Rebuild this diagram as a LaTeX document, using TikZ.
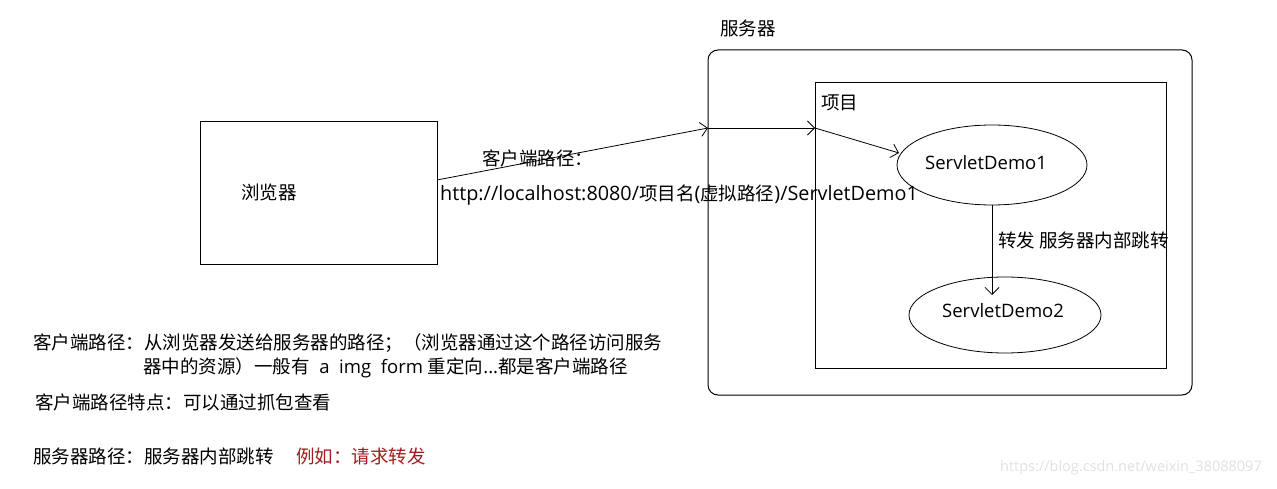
\documentclass[tikz,border=0pt]{standalone}
\usepackage{fontspec}
\setmainfont{Noto Sans CJK SC}
\newfontfamily\lat{Open Sans}
\newcommand\latb{\fontsize{19.8}{22}\selectfont\lat}
\usetikzlibrary{arrows.meta}
\definecolor{darkred}{RGB}{160,30,30}
\definecolor{wm}{RGB}{225,225,225}
\begin{document}
\begin{tikzpicture}[x=1pt,y=-1pt,
  txt/.style={anchor=west,inner sep=0pt,font=\fontsize{18.5}{22}\selectfont},
  box/.style={draw,line width=1pt},
  arr/.style={line width=0.8pt,-{Straight Barb[length=7pt,width=14pt]}}]
\useasboundingbox (0,0) rectangle (1277,489);
% boxes
\draw[box] (200,122) rectangle (437,264);
\node[txt] (bl) at (241,192) {浏览器};
\draw[box,rounded corners=10pt] (708,50) rectangle (1192,395);
\node[txt] (sl) at (720,28) {服务器};
\draw[box] (815,83) rectangle (1166,368);
\node[txt] (pl) at (821,103) {项目};
% ellipses
\draw[line width=0.8pt] (992,165) ellipse [x radius=95, y radius=40];
\draw[line width=0.8pt] (1005,315) ellipse [x radius=96, y radius=38];
\node[txt] (d1) at (925,163) {\lat ServletDemo1};
\node[txt] (d2) at (942,311) {\lat ServletDemo2};
% path arrows
\coordinate (a0) at (437,180);
\coordinate (a1) at (708,128);
\coordinate (a2) at (815,128);
\coordinate (a3) at (899,153);
\draw[arr] (a0) -- (a1);
\draw[arr] (a1) -- (a2);
\draw[arr] (a2) -- (a3);
\coordinate (f0) at (992,205);
\coordinate (f1) at (992,295);
\draw[arr] (f0) -- (f1);
\node[txt] (fl) at (998,240) {转发 服务器内部跳转};
\node[txt] (cp) at (482,158) {客户端路径：};
\node[txt] (url) at (440,195) {{\latb http://localhost:8080/}项目名{\latb (}虚拟路径{\latb )/ServletDemo1}};
% notes
\node[txt] (n1) at (33,343) {客户端路径：从浏览器发送给服务器的路径；（浏览器通过这个路径访问服务};
\node[txt] (n2) at (143,368) {器中的资源）一般有{\lat\ \ a\ \ img\ \ form }重定向{\lat ...}都是客户端路径};
\node[txt] (n3) at (35,402) {客户端路径特点：可以通过抓包查看};
\node[txt] (n4) at (33,456) {服务器路径：服务器内部跳转};
\node[txt,text=darkred] (n5) at (296,456) {例如：请求转发};
\node[txt,text=wm,font=\fontsize{14.5}{16}\selectfont\lat] (w) at (1000,468) {https://blog.csdn.net/weixin\_38088097};
\end{tikzpicture}
\end{document}
